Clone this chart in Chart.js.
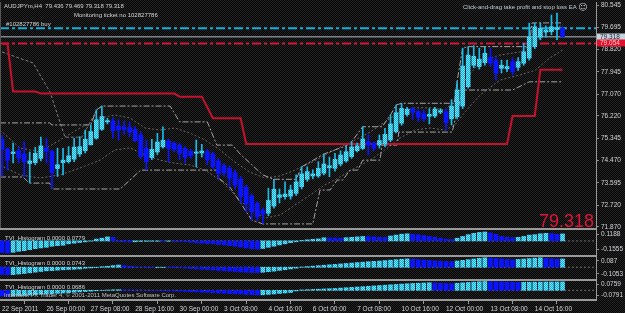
<!DOCTYPE html>
<html>
<head>
<meta charset="utf-8">
<title>AUDJPYm,H4</title>
<script src="https://cdn.jsdelivr.net/npm/chart.js@4.4.1/dist/chart.umd.min.js"></script>
<style>
  html, body { margin: 0; padding: 0; }
  body {
    position: relative; width: 625px; height: 313px; overflow: hidden;
    background: repeating-conic-gradient(#060606 0 25%, #222 0 50%) 0 0 / 2px 2px;
    font-family: "Liberation Sans", Arial, sans-serif;
  }
  canvas { position: absolute; left: 0; }
  .t { position: absolute; font-size: 6px; line-height: 6px; color: #d6d6d6; white-space: nowrap; }
  .sep { position: absolute; left: 0; width: 597px; height: 2px; background: #9a9a9a; }
</style>
</head>
<body>
<canvas id="main" width="625" height="229" style="top:0"></canvas>
<canvas id="tvi1" width="625" height="25" style="top:230px"></canvas>
<canvas id="tvi2" width="625" height="22" style="top:257px"></canvas>
<canvas id="tvi3" width="625" height="32" style="top:281px"></canvas>

<div class="sep" style="top:228px"></div>
<div class="sep" style="top:255px"></div>
<div class="sep" style="top:279px"></div>
<div style="position:absolute;left:0;top:2px;width:1px;height:226px;background:#555"></div>

<div class="t" style="left:4px;top:3px">AUDJPYm,H4&nbsp; 79.436 79.469 79.318 79.318</div>
<div class="t" style="left:74px;top:12px">Monitoring ticket no 102827786</div>
<div class="t" style="left:6px;top:21px">#102827786 buy</div>
<div class="t" style="left:463px;top:4px;color:#c4ccd4">Click-and-drag take profit and stop loss EA <span style="font-family:'DejaVu Sans';font-size:9px;vertical-align:-1px">☺</span></div>
<div class="t" style="left:5px;top:235px">TVI_Histogram 0.0000 0.0779</div>
<div class="t" style="left:5px;top:260px">TVI_Histogram 0.0000 0.0743</div>
<div class="t" style="left:5px;top:284px">TVI_Histogram 0.0000 0.0686</div>
<div class="t" style="left:4px;top:292px;color:#c0c0c0">Interbank FX Trader 4, © 2001-2011 MetaQuotes Software Corp.</div>
<div class="t" style="right:31px;top:212px;font-size:18px;line-height:18px;color:#e0143a">79.318</div>

<script>
// H4 candles, one entry per bar (bar 0 = 22 Sep 2011)
const opens = [75.30,74.92,74.74,74.85,74.72,74.35,74.38,74.55,74.95,74.82,
  74.15,74.38,74.42,74.52,74.72,74.85,75.08,75.34,75.69,75.98,
  76.02,75.82,75.78,75.76,75.69,75.47,74.95,74.58,74.80,75.00,
  75.24,75.14,75.07,74.94,74.83,74.75,74.76,74.82,74.72,74.45,
  74.26,74.16,73.99,73.74,73.42,73.08,72.79,72.52,72.40,72.68,
  73.02,73.05,73.07,73.18,73.44,73.73,73.86,73.86,73.97,74.18,
  74.16,74.33,74.45,74.62,74.85,74.94,75.20,75.14,75.07,75.11,
  75.27,75.60,75.93,76.27,76.50,76.38,76.30,76.20,76.21,76.36,
  76.38,76.10,76.18,76.60,77.36,78.20,78.15,78.30,78.51,78.38,
  78.08,78.06,78.34,78.12,78.28,78.48,78.93,79.30,79.50,79.52,
  79.60,79.65];
const highs = [75.45,74.96,75.15,75.00,75.20,74.80,74.98,75.38,75.33,74.88,
  74.95,74.94,75.01,75.34,75.40,75.66,75.86,76.45,76.60,76.12,
  76.15,76.06,76.00,75.98,75.79,75.60,75.27,75.30,75.53,75.79,
  75.30,75.20,75.15,75.00,74.90,75.27,75.10,74.90,74.80,74.55,
  74.35,74.25,74.10,73.85,73.50,73.15,72.85,72.60,73.38,73.73,
  73.35,73.63,73.50,73.90,74.22,74.22,74.10,74.42,74.72,74.60,
  74.75,74.85,75.04,75.20,75.15,75.79,75.47,75.20,75.47,75.73,
  76.25,76.64,76.71,76.55,76.55,76.45,76.45,76.50,76.55,76.50,
  76.50,76.85,77.56,78.87,78.93,78.97,78.87,78.90,78.87,78.54,
  78.40,78.40,78.50,78.50,79.06,79.85,79.85,79.85,79.75,80.17,
  80.25,79.70];
const lows = [73.85,74.09,74.37,74.37,73.83,73.60,74.30,74.45,74.37,73.38,
  73.84,73.90,74.36,74.42,74.62,74.76,75.08,75.30,75.65,75.90,
  75.34,75.27,75.50,75.40,75.20,74.55,74.10,74.50,74.70,74.95,
  74.42,74.80,74.49,74.38,74.55,74.22,74.60,74.30,74.15,73.77,
  73.85,73.44,73.35,72.79,72.46,72.13,72.12,72.00,72.30,72.60,
  72.80,72.95,72.95,73.10,73.35,73.65,73.75,73.80,73.90,73.83,
  74.05,74.25,74.40,74.55,74.80,74.90,74.68,74.85,74.95,75.00,
  75.20,75.55,75.85,76.20,76.08,76.00,76.00,75.90,76.15,76.30,
  75.66,75.86,76.10,76.50,77.30,78.10,78.05,78.20,78.15,77.62,
  77.90,77.95,77.82,78.00,78.20,78.40,78.85,79.20,79.30,79.40,
  79.20,79.30];
const closes = [74.90,74.47,74.80,74.56,74.41,74.45,74.75,75.04,74.82,73.99,
  74.30,74.48,74.65,74.99,75.01,75.30,75.60,76.06,76.19,76.03,
  75.63,75.66,75.69,75.58,75.24,74.62,74.42,74.90,75.19,75.26,
  74.94,74.91,74.75,74.59,74.65,74.80,74.84,74.49,74.22,73.96,
  73.99,73.77,73.50,73.05,72.76,72.46,72.26,72.36,72.90,73.34,
  73.12,73.15,73.31,73.63,73.94,74.03,73.94,74.16,74.33,74.26,
  74.51,74.68,74.81,75.00,75.04,75.31,75.07,74.94,75.25,75.49,
  75.90,76.34,76.51,76.48,76.35,76.16,76.10,76.28,76.48,76.42,
  75.95,76.60,77.23,78.17,78.60,78.55,78.44,78.67,78.28,77.89,
  78.20,78.15,77.95,78.34,78.73,79.32,79.71,79.65,79.58,79.71,
  79.68,79.32];

// indicator lines, given as vertices (bar index, price)
const channelUpX = [-0.36,8.6,9,16,17,18,30.3,32,37,38.7,41.5,43,45,47,49,53,54,58,62,63,65,68.5,70,71,72,81.5,82,83,84,95,95.5,101];
const channelUpY = [75.94,75.94,75.86,75.86,76.45,76.60,76.60,75.98,75.98,75.07,75.07,74.70,74.30,73.90,73.73,73.73,74.22,74.72,75.04,75.20,75.79,75.79,76.25,76.64,76.71,76.71,77.56,78.87,78.93,78.93,79.86,79.86];
const channelDnX = [-0.36,3.8,4.9,8.6,9,21.3,25,38.7,39,41,43,44,45,47,56,57.3,59.1,60.4,61.4,62.7,64.1,65,68.1,68.5,71.2,71.5,81.1,83,92,95,101];
const channelDnY = [73.82,73.82,73.58,73.58,73.35,73.35,74.09,74.09,73.78,73.44,72.80,72.46,72.13,71.98,71.98,73.31,73.31,73.70,73.70,74.09,74.09,74.48,74.48,75.07,75.07,75.58,75.58,77.23,77.23,77.55,77.55];
const outerX = [0,5.6,8.65,11.35,14.4,17.1,18];
const outerY = [78.72,78.29,77.15,75.38,75.38,76.45,76.60];
const bandX = [-0.36,3.24,6.85,10.45,14.05,17.66,20.36,23.06,25.77,28.47,31.17,33.87,36.58,39.28,41.98,44.68,47.39,50.09,52.79,55.5,58.2,60.9,63.6,66.31,69.01,71.71,74.41,77.12,79.82,81.62,83.42,86.13,89.73,93.33,96.04,98.74,101.08];
const bandUpY = [75.66,74.96,74.80,75.27,75.74,76.13,76.25,76.13,75.74,75.66,75.74,75.54,75.27,74.88,74.40,74.01,73.78,73.86,74.09,74.36,74.68,74.99,75.27,75.58,75.98,76.37,76.53,76.53,76.45,76.84,77.62,78.33,78.60,78.72,79.11,79.58,79.78];
const bandDnY = [74.29,73.90,73.78,73.90,74.17,74.48,74.88,74.96,74.68,74.48,74.36,74.29,74.09,73.70,73.11,72.53,72.21,72.33,72.72,73.11,73.51,73.82,74.17,74.48,74.88,75.35,75.66,75.74,75.66,75.86,76.37,77.03,77.62,77.82,78.00,78.49,78.80];
const stopLineX = [0,1,2,6,7,31,32,36,38,43,44,91,92,96,97,101];
const stopLineY = [79.04,79.04,77.17,77.17,77.09,77.09,76.97,76.97,76.12,76.12,75.11,75.11,76.21,76.21,78.02,78.02];

// order levels
const takeProfit = 79.65;
const stopLoss = 79.054;
const bidPrice = 79.318;

// TVI histograms
const tvi1 = [-0.130,-0.136,-0.128,-0.117,-0.110,-0.098,-0.087,-0.079,-0.072,-0.060,
  -0.053,-0.049,-0.033,-0.026,-0.018,-0.011,-0.003,0.020,0.030,0.045,
  0.040,-0.005,-0.010,-0.012,-0.010,-0.006,-0.005,-0.004,-0.004,-0.005,
  -0.004,-0.005,-0.006,-0.010,-0.015,-0.020,-0.026,-0.030,-0.033,-0.040,
  -0.045,-0.053,-0.060,-0.070,-0.079,-0.087,-0.092,-0.085,-0.072,-0.060,
  -0.045,-0.033,-0.020,-0.010,0.005,0.012,0.018,0.022,0.035,0.033,
  0.032,0.031,0.036,0.040,0.045,0.050,0.048,0.045,0.040,0.038,
  0.055,0.065,0.075,0.080,0.075,0.068,0.060,0.050,0.040,0.030,
  0.020,0.015,0.030,0.050,0.070,0.085,0.095,0.100,0.090,0.075,
  0.050,0.040,0.035,0.040,0.050,0.065,0.070,0.080,0.085,0.082,
  0.075,0.0779];
const tvi2 = [-0.065,-0.068,-0.066,-0.061,-0.056,-0.050,-0.044,-0.038,-0.032,-0.030,
  -0.026,-0.023,-0.020,-0.018,-0.015,-0.009,-0.006,-0.003,0.005,0.009,
  0.015,0.020,0.015,0.010,0.004,0.002,-0.002,-0.003,-0.002,-0.002,
  -0.003,-0.004,-0.005,-0.008,-0.012,-0.015,-0.018,-0.021,-0.024,-0.028,
  -0.031,-0.035,-0.038,-0.042,-0.045,-0.047,-0.048,-0.045,-0.040,-0.035,
  -0.028,-0.022,-0.015,-0.008,0.002,0.006,0.010,0.014,0.018,0.022,
  0.026,0.030,0.034,0.038,0.042,0.046,0.050,0.053,0.056,0.060,
  0.064,0.068,0.072,0.075,0.072,0.068,0.065,0.062,0.058,0.055,
  0.052,0.050,0.056,0.062,0.068,0.074,0.080,0.085,0.082,0.078,
  0.074,0.070,0.067,0.070,0.074,0.078,0.082,0.085,0.080,0.076,
  0.072,0.0743];
const tvi3 = [-0.048,-0.050,-0.048,-0.045,-0.042,-0.039,-0.036,-0.033,-0.030,-0.028,
  -0.025,-0.022,-0.019,-0.016,-0.013,-0.010,-0.007,-0.004,-0.001,0.002,
  0.004,0.005,0.004,0.003,0.002,0.001,0.000,-0.001,-0.002,-0.003,
  -0.004,-0.005,-0.007,-0.009,-0.011,-0.013,-0.015,-0.017,-0.020,-0.022,
  -0.024,-0.027,-0.029,-0.031,-0.034,-0.036,-0.038,-0.037,-0.034,-0.030,
  -0.026,-0.022,-0.018,-0.005,0.003,0.005,0.007,0.009,0.011,0.013,
  0.015,0.018,0.021,0.024,0.027,0.030,0.033,0.036,0.039,0.042,
  0.045,0.048,0.051,0.054,0.056,0.058,0.060,0.062,0.060,0.058,
  0.056,0.055,0.058,0.061,0.064,0.067,0.070,0.072,0.071,0.070,
  0.069,0.068,0.066,0.064,0.065,0.066,0.067,0.0675,0.068,0.0682,
  0.0684,0.0686];

// axis labels
const priceTicks = [80.545,79.695,78.820,77.945,77.070,76.220,75.345,74.470,73.595,72.720,71.870];
const tvi1Labels = ['0.1188','0.00','-0.1555'];
const tvi2Labels = ['0.087','0.00','-0.1053'];
const tvi3Labels = ['0.0759','0.00','-0.0791'];
const dateLabels = ['22 Sep 2011','26 Sep 00:00','27 Sep 08:00','28 Sep 16:00','30 Sep 00:00','3 Oct 08:00',
  '4 Oct 16:00','6 Oct 00:00','7 Oct 08:00','10 Oct 16:00','12 Oct 00:00','13 Oct 08:00','14 Oct 16:00'];
const barsPerLabel = 8;

Chart.defaults.font.family = '"Liberation Sans", Arial, sans-serif';
Chart.defaults.font.size = 6.5;
Chart.defaults.color = '#d2d6da';

const xMin = -0.36, xMax = 107.03;
const axisWidth = 29;
const cyan = '#19bdec', blue = '#0b14ff';

function dither(a, b) {
  const c = document.createElement('canvas');
  c.width = c.height = 2;
  const g = c.getContext('2d');
  g.fillStyle = a; g.fillRect(0, 0, 2, 2);
  g.fillStyle = b; g.fillRect(0, 0, 1, 1); g.fillRect(1, 1, 1, 1);
  return g.createPattern(c, 'repeat');
}
const cyanFill = dither('#0fb2e2', '#74e6fc');

const pts = (xs, ys) => xs.map((x, i) => ({ x, y: ys[i] }));
const level = v => [{ x: xMin, y: v }, { x: xMax, y: v }];
const lineDs = (data, color, width, dash, order) => ({
  type: 'line', data, borderColor: color, borderWidth: width, borderDash: dash,
  pointRadius: 0, tension: 0, fill: false, order,
});

const bull = i => closes[i] >= opens[i];
const common = {
  responsive: false, animation: false, events: [],
  plugins: { legend: { display: false }, tooltip: { enabled: false } },
};
const rightAxis = {
  position: 'right',
  afterFit: s => { s.width = axisWidth; s.paddingTop = 0; s.paddingBottom = 0; },
  ticks: { padding: 2, color: '#d2d6da' },
  grid: { drawOnChartArea: false, tickLength: 3, color: '#8c8c8c' },
  border: { color: '#9a9a9a' },
};

// price labels painted over the right axis
const priceBoxes = {
  id: 'priceBoxes',
  afterDraw(chart) {
    const { ctx, chartArea, scales: { y } } = chart;
    const left = chartArea.right + 1;
    [[bidPrice, '#c6d2de', '#18222c'], [stopLoss, '#e0122e', '#ffc4c8']].forEach(([v, bg, fg]) => {
      const py = Math.round(y.getPixelForValue(v));
      ctx.fillStyle = bg;
      ctx.fillRect(left, py - 3.5, 28, 7);
      ctx.fillStyle = fg;
      ctx.font = '6.5px "Liberation Sans"';
      ctx.textBaseline = 'middle';
      ctx.textAlign = 'left';
      ctx.fillText(v.toFixed(3), left + 3, py);
    });
  },
};

new Chart(document.getElementById('main'), {
  type: 'bar',
  data: {
    datasets: [
      { data: opens.map((_, i) => ({ x: i, y: [Math.min(opens[i], closes[i]), Math.max(opens[i], closes[i])] })),
        backgroundColor: c => bull(c.dataIndex) ? cyanFill : blue,
        barThickness: 4, minBarLength: 1, grouped: false, order: 1 },
      { data: opens.map((_, i) => ({ x: i, y: [lows[i], highs[i]] })),
        backgroundColor: c => bull(c.dataIndex) ? cyan : blue,
        barThickness: 1, grouped: false, order: 2 },
      lineDs(pts(stopLineX, stopLineY), '#c8102e', 2, [], 3),
      lineDs(level(bidPrice), '#7c848c', 1.5, [], 4),
      lineDs(level(takeProfit), '#12b0e2', 2, [9, 3, 3, 3], 4),
      lineDs(level(stopLoss), '#d4163a', 2, [9, 3, 3, 3], 4),
      lineDs(pts(channelUpX, channelUpY), '#a4a4a4', 1, [6, 2, 2, 2], 5),
      lineDs(pts(channelDnX, channelDnY), '#a4a4a4', 1, [6, 2, 2, 2], 5),
      lineDs(pts(outerX, outerY), '#7c7c7c', 1, [3, 2], 6),
      lineDs(pts(bandX, bandUpY), '#666666', 1, [2, 2], 6),
      lineDs(pts(bandX, bandDnY), '#666666', 1, [2, 2], 6),
    ],
  },
  options: {
    ...common,
    layout: { padding: { top: 2, bottom: 1, left: 0, right: 0 } },
    scales: {
      x: { type: 'linear', display: false, min: xMin, max: xMax, offset: false },
      y: {
        ...rightAxis, min: 71.82, max: 80.68,
        afterBuildTicks: s => { s.ticks = priceTicks.map(v => ({ value: v })); },
        ticks: { ...rightAxis.ticks, callback: v => v.toFixed(3) },
      },
    },
  },
  plugins: [priceBoxes],
});

const dateAxis = {
  type: 'linear', min: xMin, max: xMax, offset: false,
  afterBuildTicks: s => { s.ticks = dateLabels.map((_, k) => ({ value: k * barsPerLabel })); },
  afterFit: s => { s.height = 13; s.paddingLeft = 0; s.paddingRight = 0; },
  ticks: { align: 'start', padding: 1, maxRotation: 0, autoSkip: false, color: '#d2d6da',
    callback: (v, k) => dateLabels[k] },
  grid: { drawOnChartArea: false, tickLength: 4, color: '#9a9a9a' },
  border: { color: '#9a9a9a', width: 2 },
};

function tviPane(id, values, labels, yMin, yMax, withDates) {
  const span = yMax - yMin;
  const tickAt = [yMax - span * 0.18, 0, yMin + span * 0.24];
  return new Chart(document.getElementById(id), {
    type: 'bar',
    data: {
      datasets: [
        { data: values.map((v, i) => ({ x: i, y: v })),
          backgroundColor: c => (c.dataIndex === 0 || values[c.dataIndex] < values[c.dataIndex - 1]) ? blue : cyanFill,
          barThickness: 4, grouped: false, order: 1 },
        lineDs(level(0), '#6c6c6c', 1, [2, 2], 2),
      ],
    },
    options: {
      ...common,
      layout: { padding: 0 },
      scales: {
        x: withDates ? dateAxis : { type: 'linear', display: false, min: xMin, max: xMax, offset: false },
        y: {
          ...rightAxis, min: yMin, max: yMax,
          afterBuildTicks: s => { s.ticks = tickAt.map(v => ({ value: v })); },
          ticks: { ...rightAxis.ticks, callback: (v, k) => labels[k] },
        },
      },
    },
  });
}

tviPane('tvi1', tvi1, tvi1Labels, -0.158, 0.122, false);
tviPane('tvi2', tvi2, tvi2Labels, -0.1053, 0.092, false);
tviPane('tvi3', tvi3, tvi3Labels, -0.0791, 0.0759, true);
</script>
</body>
</html>
